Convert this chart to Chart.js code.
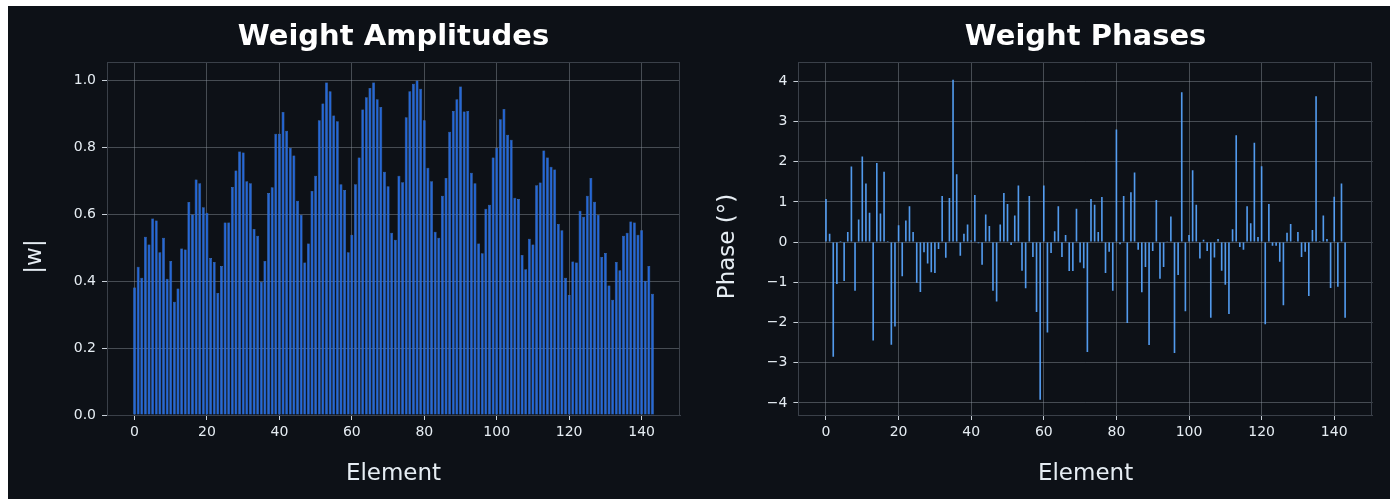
<!DOCTYPE html>
<html>
<head>
<meta charset="utf-8">
<script src="https://cdn.jsdelivr.net/npm/chart.js@4.4.1/dist/chart.umd.min.js"></script>
<style>
  html, body { margin: 0; padding: 0; background: #ffffff; }
  body { width: 1395px; height: 503px; position: relative; overflow: hidden; }
  #frame { position: absolute; left: 8px; top: 6px; width: 1382px; height: 493px; background: #0d1117; }
  canvas { position: absolute; top: 0; }
  #ampChart { left: 0; }
  #phaseChart { left: 700px; }
</style>
</head>
<body>
<div id="frame"></div>
<canvas id="ampChart" width="700" height="503" style="width:700px;height:503px"></canvas>
<canvas id="phaseChart" width="695" height="503" style="width:695px;height:503px"></canvas>
<script>
// weight magnitudes |w| per element (0..143)
const amplitudes = [
  0.381, 0.443, 0.410, 0.532, 0.509, 0.587, 0.581, 0.486, 0.529, 0.407,
  0.460, 0.338, 0.378, 0.497, 0.494, 0.636, 0.599, 0.703, 0.692, 0.620,
  0.604, 0.469, 0.457, 0.364, 0.445, 0.575, 0.575, 0.681, 0.730, 0.787,
  0.784, 0.698, 0.692, 0.555, 0.535, 0.398, 0.460, 0.663, 0.680, 0.840,
  0.840, 0.905, 0.849, 0.798, 0.775, 0.640, 0.598, 0.455, 0.512, 0.669,
  0.714, 0.880, 0.930, 0.993, 0.967, 0.894, 0.877, 0.689, 0.672, 0.486,
  0.538, 0.689, 0.769, 0.912, 0.949, 0.976, 0.993, 0.943, 0.920, 0.726,
  0.683, 0.544, 0.523, 0.714, 0.695, 0.889, 0.967, 0.989, 0.999, 0.974,
  0.880, 0.738, 0.698, 0.547, 0.529, 0.655, 0.708, 0.846, 0.908, 0.943,
  0.981, 0.906, 0.908, 0.723, 0.692, 0.512, 0.483, 0.616, 0.628, 0.769,
  0.798, 0.883, 0.914, 0.837, 0.822, 0.649, 0.645, 0.478, 0.435, 0.526,
  0.509, 0.686, 0.694, 0.790, 0.769, 0.741, 0.733, 0.570, 0.552, 0.410,
  0.358, 0.458, 0.455, 0.610, 0.592, 0.655, 0.708, 0.637, 0.598, 0.472,
  0.484, 0.387, 0.344, 0.457, 0.432, 0.535, 0.544, 0.578, 0.575, 0.538,
  0.552, 0.401, 0.445, 0.362
];

// weight phases in degrees per element (0..143)
const phases = [
  1.07, 0.21, -2.85, -1.04, 0.03, -0.97, 0.25, 1.88, -1.21, 0.56,
  2.13, 1.46, 0.73, -2.45, 1.97, 0.71, 1.75, 0.03, -2.55, -2.10,
  0.42, -0.85, 0.54, 0.89, 0.25, -1.01, -1.24, -0.25, -0.53, -0.75,
  -0.77, -0.17, 1.15, -0.39, 1.10, 4.04, 1.69, -0.34, 0.21, 0.44,
  0.04, 1.17, -0.03, -0.56, 0.69, 0.40, -1.21, -1.48, 0.44, 1.22,
  0.95, -0.07, 0.66, 1.41, -0.71, -1.15, 1.15, -0.37, -1.74, -3.92,
  1.41, -2.25, -0.27, 0.27, 0.89, -0.37, 0.18, -0.72, -0.72, 0.83,
  -0.51, -0.65, -2.73, 1.07, 0.93, 0.25, 1.12, -0.77, -0.24, -1.21,
  2.80, -0.05, 1.15, -2.01, 1.24, 1.73, -0.19, -1.25, -0.62, -2.56,
  -0.22, 1.05, -0.91, -0.62, 0.02, 0.64, -2.76, -0.82, 3.73, -1.72,
  0.18, 1.79, 0.93, -0.41, 0.06, -0.22, -1.88, -0.38, 0.08, -0.71,
  -1.06, -1.79, 0.32, 2.66, -0.12, -0.19, 0.89, 0.47, 2.47, 0.13,
  1.89, -2.04, 0.95, -0.09, -0.09, -0.49, -1.57, 0.23, 0.45, 0.02,
  0.25, -0.37, -0.24, -1.34, 0.30, 3.63, 0.03, 0.66, 0.08, -1.14,
  1.13, -1.11, 1.46, -1.88
];

// tick labels
const elementTicks = [0, 20, 40, 60, 80, 100, 120, 140];
const ampTicks = [0.0, 0.2, 0.4, 0.6, 0.8, 1.0];
const phaseTicks = [-4, -3, -2, -1, 0, 1, 2, 3, 4];

const TEXT = "#e6edf3";
const GRID = "rgba(139,148,158,0.45)";
const SPINE = "#3a4049";
const TICK = "#c9d1d9";

Chart.defaults.font.family = "'DejaVu Sans', sans-serif";
Chart.defaults.color = TEXT;

// box around the plot area (matplotlib spines) + rotated y label
const frameAndLabel = {
  id: "frameAndLabel",
  afterDraw(chart, args, opts) {
    const { ctx, chartArea: a } = chart;
    ctx.save();
    ctx.strokeStyle = SPINE;
    ctx.lineWidth = 1;
    ctx.strokeRect(Math.round(a.left) + 0.5, Math.round(a.top) + 0.5,
      Math.round(a.right - a.left) - 1, Math.round(a.bottom - a.top));

    ctx.translate(opts.x, (a.top + a.bottom) / 2 + opts.shift);
    ctx.rotate(-Math.PI / 2);
    ctx.fillStyle = TEXT;
    ctx.font = "23px 'DejaVu Sans', sans-serif";
    ctx.textAlign = "center";
    ctx.textBaseline = "middle";
    ctx.fillText(opts.text, 0, 0);
    ctx.restore();
  },
};

function minusSign(v) {
  return v < 0 ? "\u2212" + Math.abs(v) : String(v);
}

function makeChart(id, values, cfg) {
  const ctx = document.getElementById(id).getContext("2d");
  return new Chart(ctx, {
    type: "bar",
    data: {
      datasets: [
        {
          data: values.map((v, i) => ({ x: i, y: v })),
          backgroundColor: cfg.fill,
          borderColor: cfg.edge,
          borderWidth: cfg.edgeWidth,
          barPercentage: 1,
          categoryPercentage: cfg.barWidth,
        },
      ],
    },
    options: {
      responsive: false,
      devicePixelRatio: 1,
      animation: false,
      layout: { padding: { left: 0, right: cfg.padRight, top: 0, bottom: 0 } },
      plugins: {
        legend: { display: false },
        tooltip: { enabled: false },
        title: {
          display: true,
          fullSize: false,
          text: cfg.title,
          color: "#ffffff",
          font: { size: 29, weight: "bold" },
          padding: { top: 19.6, bottom: 7.6 },
        },
        frameAndLabel: { text: cfg.yLabel, x: cfg.yLabelX, shift: cfg.yLabelShift },
      },
      scales: {
        x: {
          type: "linear",
          min: -7.6,
          max: 150.6,
          offset: false,
          z: 1,
          afterBuildTicks: (s) => { s.ticks = elementTicks.map((v) => ({ value: v })); },
          afterFit: (s) => { s.height = 88; },
          ticks: { font: { size: 14 }, padding: 4, color: TEXT },
          grid: { offset: false, color: GRID, lineWidth: 1, tickLength: 5, tickColor: TICK },
          border: { color: SPINE },
          title: {
            display: true,
            text: "Element",
            font: { size: 23 },
            color: TEXT,
            padding: { top: 0, bottom: 15.2 },
          },
        },
        y: {
          type: "linear",
          min: cfg.yMin,
          max: cfg.yMax,
          z: 1,
          afterBuildTicks: (s) => { s.ticks = cfg.yTicks.map((v) => ({ value: v })); },
          afterFit: (s) => { s.width = cfg.yWidth; },
          ticks: { font: { size: 14 }, padding: 6, color: TEXT, callback: cfg.fmt },
          grid: { color: GRID, lineWidth: 1, tickLength: 5, tickColor: TICK },
          border: { color: SPINE },
        },
      },
    },
    plugins: [frameAndLabel],
  });
}

const ampChart = makeChart("ampChart", amplitudes, {
  title: "Weight Amplitudes",
  yLabel: "|w|",
  yLabelX: 35,
  yLabelShift: 18,
  fill: "#2668d6",
  edge: "rgba(88,150,240,0.9)",
  edgeWidth: 0.5,
  barWidth: 0.8,
  yMin: 0,
  yMax: 1.054,
  yTicks: ampTicks,
  fmt: (v) => v.toFixed(1),
  yWidth: 107,
  padRight: 20,
});

const phaseChart = makeChart("phaseChart", phases, {
  title: "Weight Phases",
  yLabel: "Phase (\u00b0)",
  yLabelX: 28,
  yLabelShift: 8,
  fill: "rgba(88,166,255,0.92)",
  edge: "rgba(88,166,255,0.92)",
  edgeWidth: 0,
  barWidth: 0.45,
  yMin: -4.3,
  yMax: 4.48,
  yTicks: phaseTicks,
  fmt: (v) => minusSign(v),
  yWidth: 98.4,
  padRight: 22.3,
});
</script>
</body>
</html>
